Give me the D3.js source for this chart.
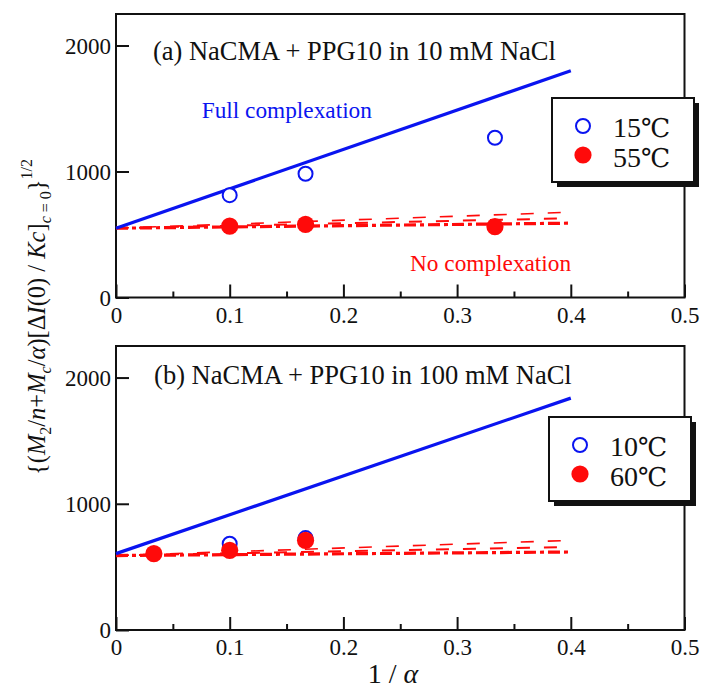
<!DOCTYPE html>
<html>
<head>
<meta charset="utf-8">
<script src="https://cdn.jsdelivr.net/npm/d3@7"></script>
<style>
  body { margin: 0; background: #fff; }
  svg text { font-family: "Liberation Serif", "Times New Roman", serif; fill: #111; }
</style>
</head>
<body>
<div id="chart"></div>
<script>
// x axis is 1/alpha, y axis is the square-root quantity
const xTicks = [0, 0.1, 0.2, 0.3, 0.4, 0.5];
const xMinorTicks = [0.05, 0.15, 0.25, 0.35, 0.45];
const yTicks = [0, 1000, 2000];

// panel (a): 10 mM NaCl
const aTitle = "(a) NaCMA + PPG10 in 10 mM NaCl";
const aSeries = ["15", "55"];   // temperatures, in deg C
const aLowX = [0.1, 0.1667, 0.3333];
const aLowY = [812, 982, 1268];
const aHighX = [0.1, 0.1667, 0.3333];
const aHighY = [566, 581, 562];
const aLineX = [0, 0.4];
const aFullY = [550, 1800];
const aNoDashY = [550, 677];
const aNoMidY = [550, 629];
const aNoDotY = [550, 590];

// panel (b): 100 mM NaCl
const bTitle = "(b) NaCMA + PPG10 in 100 mM NaCl";
const bSeries = ["10", "60"];
const bLowX = [0.1, 0.1667];
const bLowY = [684, 728];
const bHighX = [0.0333, 0.1, 0.1667];
const bHighY = [605, 631, 710];
const bLineX = [0, 0.4];
const bFullY = [605, 1837];
const bNoDashY = [590, 710];
const bNoMidY = [590, 657];
const bNoDotY = [590, 618];

const blue = "#0a14f0", red = "#ff0a0a";
const serif = "'Liberation Serif', 'Times New Roman', serif";

let width = 702, height = 690;
let svg = d3.select("#chart").append("svg")
    .attr("width", width)
    .attr("height", height);

function zip(xs, ys) { return xs.map((x, i) => [x, ys[i]]); }

function drawPanel(opt) {
    let g = svg.append("g")
        .attr("transform", "translate(" + opt.left + "," + opt.top + ")");

    let x = d3.scaleLinear().domain([0, 0.5]).range([0, opt.w]);
    let y = d3.scaleLinear().domain([0, 2250]).range([opt.h, 0]);

    // axes with inward ticks
    let xAxis = g.append("g")
        .attr("transform", "translate(0," + opt.h + ")")
        .call(d3.axisBottom(x).tickValues(xTicks).tickSize(-13).tickPadding(9)
            .tickFormat(d => d === 0 ? "0" : d3.format(".1f")(d)));
    let xMinor = g.append("g")
        .attr("transform", "translate(0," + opt.h + ")")
        .call(d3.axisBottom(x).tickValues(xMinorTicks).tickSize(-6).tickFormat(""));
    let yAxis = g.append("g")
        .call(d3.axisLeft(y).tickValues(yTicks).tickSize(-13).tickPadding(5)
            .tickFormat(d3.format("d")));

    [xAxis, xMinor, yAxis].forEach(a => {
        a.attr("font-family", serif).attr("font-size", 23);
        a.select(".domain").remove();
        a.selectAll("line").attr("stroke", "#111").attr("stroke-width", 2);
        a.selectAll("text").attr("fill", "#111")
            .style("font-family", serif).style("font-size", "23px");
    });
    yAxis.selectAll("text").attr("dy", "0.34em");

    // frame
    g.append("rect")
        .attr("x", x(0)).attr("y", 0)
        .attr("width", x(0.5) - x(0)).attr("height", opt.h)
        .attr("fill", "none").attr("stroke", "#111").attr("stroke-width", 2);

    let line = d3.line().x(d => x(d[0])).y(d => y(d[1]));

    // no complexation lines
    g.append("path").datum(zip(opt.lineX, opt.noDashY))
        .attr("d", line).attr("fill", "none").attr("stroke", red)
        .attr("stroke-width", 1.6).attr("stroke-dasharray", "13,14");
    g.append("path").datum(zip(opt.lineX, opt.noMidY))
        .attr("d", line).attr("fill", "none").attr("stroke", red)
        .attr("stroke-width", 2).attr("stroke-dasharray", "13,14")
        .attr("stroke-dashoffset", 4);
    g.append("path").datum(zip(opt.lineX, opt.noDotY))
        .attr("d", line).attr("fill", "none").attr("stroke", red)
        .attr("stroke-width", 3.2).attr("stroke-dasharray", "12,4,4,4");

    // full complexation line
    g.append("path").datum(zip(opt.lineX, opt.fullY))
        .attr("d", line).attr("fill", "none").attr("stroke", blue)
        .attr("stroke-width", 3.2);

    // points
    g.selectAll(".low").data(zip(opt.lowX, opt.lowY)).enter().append("circle")
        .attr("cx", d => x(d[0])).attr("cy", d => y(d[1])).attr("r", 7)
        .attr("fill", "#fff").attr("stroke", blue).attr("stroke-width", 2);
    g.selectAll(".high").data(zip(opt.highX, opt.highY)).enter().append("circle")
        .attr("cx", d => x(d[0])).attr("cy", d => y(d[1])).attr("r", 8.6)
        .attr("fill", red);

    // texts
    g.append("text")
        .attr("x", x(opt.titlePos[0])).attr("y", y(opt.titlePos[1]))
        .style("font-size", "26.5px").text(opt.title);
    if (opt.fullText) {
        g.append("text")
            .attr("x", x(opt.fullText[0])).attr("y", y(opt.fullText[1]))
            .style("font-size", "23.3px").style("fill", blue).text("Full complexation");
        g.append("text")
            .attr("x", x(opt.noText[0])).attr("y", y(opt.noText[1]))
            .style("font-size", "23.3px").style("fill", red).text("No complexation");
    }

    // legend box with shadow
    let lg = g.append("g").attr("transform", "translate(" + opt.legend[0] + "," + opt.legend[1] + ")");
    lg.append("rect").attr("x", 5).attr("y", 5).attr("width", 142).attr("height", 84).attr("fill", "#111");
    lg.append("rect").attr("x", 0).attr("y", 0).attr("width", 142).attr("height", 84)
        .attr("fill", "#fff").attr("stroke", "#111").attr("stroke-width", 2);
    lg.append("circle").attr("cx", 31).attr("cy", 28).attr("r", 7)
        .attr("fill", "#fff").attr("stroke", blue).attr("stroke-width", 2);
    lg.append("circle").attr("cx", 31).attr("cy", 57).attr("r", 8.6).attr("fill", red);
    let lt = lg.selectAll(".ltext").data(opt.series).enter().append("text")
        .attr("x", 61).attr("y", (d, i) => 39 + i * 30)
        .style("font-size", "28px");
    lt.append("tspan").text(d => d);
    lt.append("tspan").style("font-family", "'DejaVu Serif', serif")
        .style("font-size", "26px").text("℃");
}

drawPanel({
    left: 116, top: 14, w: 568.5, h: 283.5,
    lowX: aLowX, lowY: aLowY, highX: aHighX, highY: aHighY,
    lineX: aLineX, fullY: aFullY, noDashY: aNoDashY, noMidY: aNoMidY, noDotY: aNoDotY,
    title: aTitle, titlePos: [0.0325, 1885], series: aSeries,
    fullText: [0.0754, 1421], noText: [0.2586, 212],
    legend: [436, 84]
});

drawPanel({
    left: 116, top: 346, w: 568.5, h: 284,
    lowX: bLowX, lowY: bLowY, highX: bHighX, highY: bHighY,
    lineX: bLineX, fullY: bFullY, noDashY: bNoDashY, noMidY: bNoMidY, noDotY: bNoDotY,
    title: bTitle, titlePos: [0.0335, 1947], series: bSeries,
    legend: [433, 71]
});

// x label
let xl = svg.append("text")
    .attr("x", 393).attr("y", 683)
    .attr("text-anchor", "middle")
    .style("font-size", "28px");
xl.append("tspan").text("1 / ");
xl.append("tspan").style("font-style", "italic").text("α");

// y label, rotated, with sub/superscripts
const yLabelParts = [
    ["{(", "n"], ["M", "i"], ["2", "sub"], ["/", "n"], ["n", "i"], ["+", "n"], ["M", "i"], ["c", "subi"],
    ["/", "n"], ["α", "i"], [")[Δ", "n"], ["I", "i"], ["(0) / ", "n"], ["Kc", "i"], ["]", "n"],
    ["c", "subi"], [" = 0", "sub"], ["}", "n"], ["1/2", "sup"]
];
let yl = svg.append("text")
    .attr("transform", "translate(45,317) rotate(-90)")
    .attr("text-anchor", "middle")
    .style("font-size", "24.5px");
let shift = 0;
yLabelParts.forEach(p => {
    let target = p[1].startsWith("sub") ? 6 : p[1] === "sup" ? -13 : 0;
    let t = yl.append("tspan").attr("dy", target - shift).text(p[0]);
    shift = target;
    if (p[1] === "i" || p[1] === "subi") t.style("font-style", "italic");
    if (p[1].startsWith("sub") || p[1] === "sup") t.style("font-size", "16px");
});
</script>
</body>
</html>
